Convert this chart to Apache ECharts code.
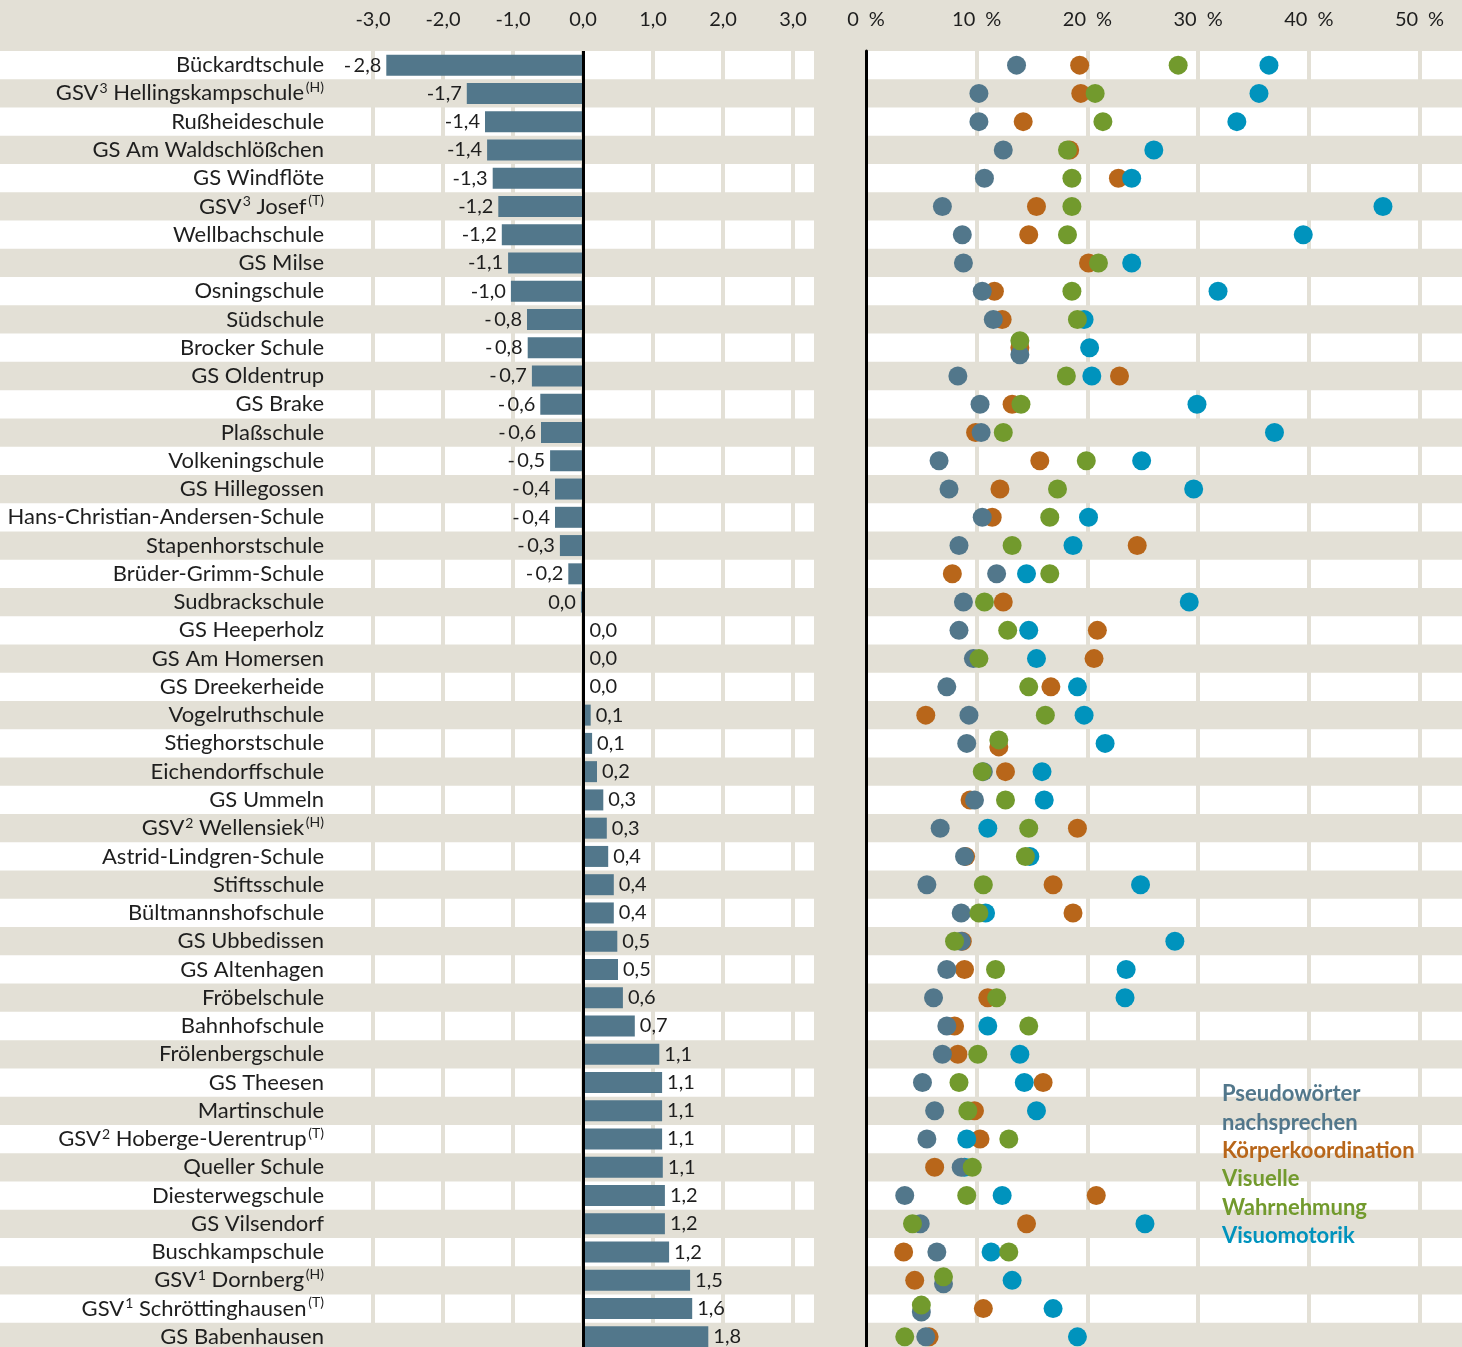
<!DOCTYPE html>
<html>
<head>
<meta charset="utf-8">
<script src="https://cdn.jsdelivr.net/npm/echarts@6/dist/echarts.min.js"></script>
<style>
  html, body { margin: 0; padding: 0; background: #e3e0d6; overflow: hidden; }
  #chart { width: 1462px; height: 1360px; }
</style>
</head>
<body>
<div id="chart"></div>
<script>
// Schulen (von oben nach unten)
var schulen = [
  'Bückardtschule', 'GSV³ Hellingskampschule (H)', 'Rußheideschule', 'GS Am Waldschlößchen',
  'GS Windflöte', 'GSV³ Josef (T)', 'Wellbachschule', 'GS Milse', 'Osningschule', 'Südschule',
  'Brocker Schule', 'GS Oldentrup', 'GS Brake', 'Plaßschule', 'Volkeningschule', 'GS Hillegossen',
  'Hans-Christian-Andersen-Schule', 'Stapenhorstschule', 'Brüder-Grimm-Schule', 'Sudbrackschule',
  'GS Heeperholz', 'GS Am Homersen', 'GS Dreekerheide', 'Vogelruthschule', 'Stieghorstschule',
  'Eichendorffschule', 'GS Ummeln', 'GSV² Wellensiek (H)', 'Astrid-Lindgren-Schule', 'Stiftsschule',
  'Bültmannshofschule', 'GS Ubbedissen', 'GS Altenhagen', 'Fröbelschule', 'Bahnhofschule',
  'Frölenbergschule', 'GS Theesen', 'Martinschule', 'GSV² Hoberge-Uerentrup (T)', 'Queller Schule',
  'Diesterwegschule', 'GS Vilsendorf', 'Buschkampschule', 'GSV¹ Dornberg (H)',
  'GSV¹ Schröttinghausen (T)', 'GS Babenhausen'
];

// Index-Werte (Balken links)
var indexWerte = [
  -2.81, -1.66, -1.40, -1.37, -1.29, -1.21, -1.16, -1.07, -1.03, -0.80,
  -0.79, -0.73, -0.61, -0.60, -0.47, -0.40, -0.40, -0.33, -0.21, -0.03,
  0.02, 0.02, 0.02, 0.11, 0.13, 0.20, 0.29, 0.34, 0.36, 0.44,
  0.44, 0.49, 0.50, 0.57, 0.74, 1.09, 1.13, 1.13, 1.13, 1.14,
  1.17, 1.17, 1.23, 1.53, 1.56, 1.79
];

// Anteile in % (Punkte rechts)
var pseudo = [
  13.6, 10.2, 10.2, 12.4, 10.7, 6.9, 8.7, 8.8, 10.5, 11.5,
  13.9, 8.3, 10.3, 10.4, 6.6, 7.5, 10.5, 8.4, 11.8, 8.8,
  8.4, 9.7, 7.3, 9.3, 9.1, 10.6, 9.8, 6.7, 8.9, 5.5,
  8.6, 8.6, 7.3, 6.1, 7.3, 6.9, 5.1, 6.2, 5.5, 8.6,
  3.5, 4.9, 6.4, 7.0, 5.0, 5.4
];
var koerper = [
  19.3, 19.4, 14.2, 18.4, 22.8, 15.4, 14.7, 20.1, 11.6, 12.3,
  13.9, 22.9, 13.2, 9.9, 15.7, 12.1, 11.4, 24.5, 7.8, 12.4,
  20.9, 20.6, 16.7, 5.4, 12.0, 12.6, 9.4, 19.1, 9.0, 16.9,
  18.7, 8.7, 8.9, 11.0, 8.0, 8.3, 16.0, 9.8, 10.3, 6.2,
  20.8, 14.5, 3.4, 4.4, 10.6, 5.7
];
var visuell = [
  28.2, 20.7, 21.4, 18.2, 18.6, 18.6, 18.2, 21.0, 18.6, 19.1,
  13.9, 18.1, 14.0, 12.4, 19.9, 17.3, 16.6, 13.2, 16.6, 10.7,
  12.8, 10.2, 14.7, 16.2, 12.0, 10.5, 12.6, 14.7, 14.4, 10.6,
  10.2, 8.0, 11.7, 11.8, 14.7, 10.1, 8.4, 9.2, 12.9, 9.6,
  9.1, 4.2, 12.9, 7.0, 5.0, 3.5
];
var motorik = [
  36.4, 35.5, 33.5, 26.0, 24.0, 46.7, 39.5, 24.0, 31.8, 19.7,
  20.2, 20.4, 29.9, 36.9, 24.9, 29.6, 20.1, 18.7, 14.5, 29.2,
  14.7, 15.4, 19.1, 19.7, 21.6, 15.9, 16.1, 11.0, 14.8, 24.8,
  10.8, 27.9, 23.5, 23.4, 11.0, 13.9, 14.3, 15.4, 9.1, 8.9,
  12.3, 25.2, 11.3, 13.2, 16.9, 19.1
];

var BEIGE = '#e3e0d6';
var TEXT = '#1e1e1e';
var FONT = 'Lato';

// Reihenfolge = Zeichenreihenfolge; rang = Reihenfolge beim Stapeln gleicher Werte (0 = oben)
var punktReihen = [
  { name: 'Körperkoordination', data: koerper, color: '#b8661a', rang: 1 },
  { name: 'Visuomotorik', data: motorik, color: '#0093bd', rang: 3 },
  { name: 'Pseudowörter nachsprechen', data: pseudo, color: '#52778b', rang: 2 },
  { name: 'Visuelle Wahrnehmung', data: visuell, color: '#729a2d', rang: 0 }
];

// gleiche Werte in einer Zeile leicht übereinander versetzen
var versatz = punktReihen.map(function () { return []; });
for (var i = 0; i < schulen.length; i++) {
  var gruppen = {};
  punktReihen.forEach(function (r, k) {
    var key = r.data[i].toFixed(1);
    (gruppen[key] = gruppen[key] || []).push(k);
  });
  Object.keys(gruppen).forEach(function (key) {
    var g = gruppen[key].sort(function (a, b) { return punktReihen[a].rang - punktReihen[b].rang; });
    g.forEach(function (k, n) {
      versatz[k][i] = g.length > 1 ? (n - (g.length - 1) / 2) * 7 : 0;
    });
  });
}

var komma = function (v) {
  if (Math.abs(v) < 0.05) return '0,0';
  return v.toFixed(1).replace('.', ',');
};

// Balkenbeschriftung: Minus mit etwas Luft (außer vor der 1)
var balkenText = function (v) {
  var s = komma(v);
  if (s.charAt(0) === '-' && s.charAt(1) !== '1') s = '-\u2009' + s.slice(1);
  return s;
};

var hoch = { '¹': '1', '²': '2', '³': '3' };

var bandAchse = function (gi) {
  return {
    type: 'category', gridIndex: gi, data: schulen, inverse: true, z: 0,
    axisLine: { show: false }, axisTick: { show: false }, axisLabel: { show: false },
    splitLine: { show: false },
    splitArea: { show: true, areaStyle: { color: ['#ffffff', 'rgba(0,0,0,0)'] } }
  };
};

var legendeStil = function (c) {
  return { color: c, fontSize: 22, fontWeight: 'bold', fontFamily: FONT, lineHeight: 28.4 };
};

var option = {
  backgroundColor: BEIGE,
  animation: false,
  textStyle: { fontFamily: FONT },
  title: {
    left: 1222, top: 1080, padding: 0,
    text: '{a|Pseudowörter}\n{a|nachsprechen}\n{b|Körperkoordination}\n{c|Visuelle}\n{c|Wahrnehmung}\n{d|Visuomotorik}',
    textStyle: {
      rich: {
        a: legendeStil('#52778b'),
        b: legendeStil('#b8661a'),
        c: legendeStil('#729a2d'),
        d: legendeStil('#0093bd')
      }
    }
  },
  grid: [
    { left: 0, top: 51, width: 814, height: 1300 },     // Zeilenbänder links
    { left: 373, top: 51, width: 420, height: 1300 },   // Balken
    { left: 867, top: 51, right: 0, height: 1300 },     // Zeilenbänder rechts
    { left: 866, top: 51, width: 553.5, height: 1300 }  // Punkte
  ],
  xAxis: [
    { type: 'value', gridIndex: 0, show: false, min: 0, max: 1 },
    {
      type: 'value', gridIndex: 1, position: 'top', min: -3, max: 3, interval: 1, z: 1,
      axisLine: { show: false }, axisTick: { show: false },
      axisLabel: { margin: 21, fontSize: 20, color: TEXT, fontFamily: FONT, formatter: function (v) { return komma(v); } },
      splitLine: { show: true, lineStyle: { color: BEIGE, width: 4 } }
    },
    { type: 'value', gridIndex: 2, show: false, min: 0, max: 1 },
    {
      type: 'value', gridIndex: 3, position: 'top', min: 0, max: 50, interval: 10, z: 1,
      axisLine: { show: false }, axisTick: { show: false },
      axisLabel: { margin: 21, fontSize: 20, color: TEXT, fontFamily: FONT, formatter: '{value}\u2002%' },
      splitLine: { show: true, lineStyle: { color: BEIGE, width: 4 } }
    }
  ],
  yAxis: [
    bandAchse(0),
    {
      type: 'category', gridIndex: 1, data: schulen, inverse: true,
      axisLine: { show: false }, axisTick: { show: false },
      axisLabel: {
        margin: 49, color: TEXT, fontFamily: FONT,
        formatter: function (s) {
          var zusatz = '';
          var m = s.match(/^(.*) \((H|T)\)$/);
          if (m) { s = m[1]; zusatz = '{s|\u2009(' + m[2] + ')}'; }
          var teile = s.split(/([¹²³])/).filter(function (t) { return t !== ''; });
          return teile.map(function (t) {
            return hoch[t] ? '{z|' + hoch[t] + '}' : '{n|' + t + '}';
          }).join('') + zusatz;
        },
        rich: {
          n: { fontSize: 22, color: TEXT, fontFamily: FONT, lineHeight: 26 },
          z: { fontSize: 14, color: TEXT, fontFamily: FONT, verticalAlign: 'top', lineHeight: 26, padding: [1, 0, 0, 1] },
          s: { fontSize: 14, color: TEXT, fontFamily: FONT, verticalAlign: 'top', lineHeight: 26 }
        }
      }
    },
    bandAchse(2),
    {
      type: 'category', gridIndex: 3, data: schulen, inverse: true, z: 3,
      axisLine: { show: true, lineStyle: { color: '#000', width: 3 } },
      axisTick: { show: false }, axisLabel: { show: false }
    }
  ],
  series: [
    {
      name: 'Index', type: 'bar', xAxisIndex: 1, yAxisIndex: 1, barWidth: 21,
      itemStyle: { color: '#52778b' },
      data: indexWerte.map(function (v) {
        return { value: v, label: { position: v < 0 ? 'left' : 'right' } };
      }),
      label: {
        show: true, distance: 5, fontSize: 20, color: TEXT, fontFamily: FONT,
        formatter: function (p) { return balkenText(p.value); }
      },
      markLine: {
        silent: true, symbol: 'none', label: { show: false },
        lineStyle: { color: '#000', width: 3, type: 'solid' },
        data: [{ xAxis: 0 }]
      }
    }
  ].concat(punktReihen.map(function (r, k) {
    return {
      name: r.name, type: 'scatter', xAxisIndex: 3, yAxisIndex: 3,
      symbolSize: 19, itemStyle: { color: r.color, opacity: 1 },
      data: r.data.map(function (v, i) {
        return { value: [v, i], symbolOffset: [0, versatz[k][i]] };
      })
    };
  }))
};

var chart = echarts.init(document.getElementById('chart'));
chart.setOption(option);
</script>
</body>
</html>
